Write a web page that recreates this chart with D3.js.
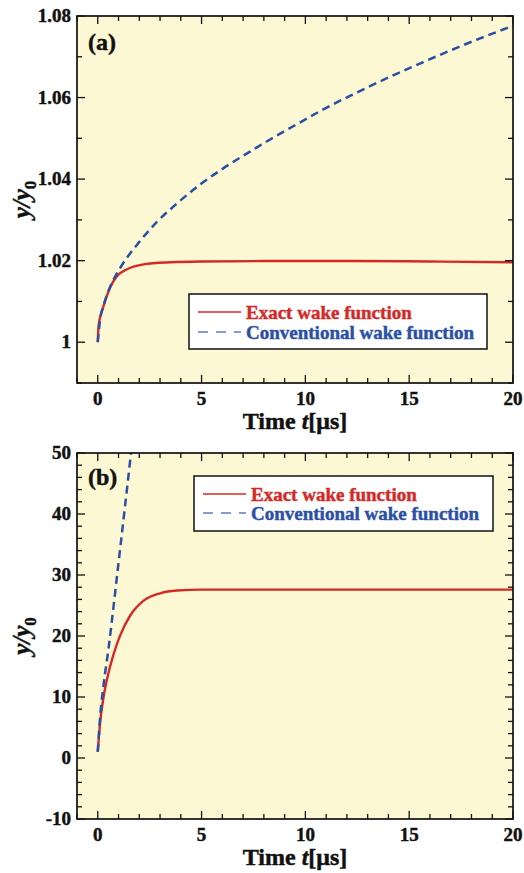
<!DOCTYPE html>
<html>
<head>
<meta charset="utf-8">
<script src="https://cdn.jsdelivr.net/npm/d3@7"></script>
<style>
	body { margin: 0; background: #fff; }
</style>
</head>
<body>
<div id="graphic"></div>
<script>
// values

// panel (a)
var timeExactA = [0, 0.04, 0.28, 0.6, 0.92, 1.41, 2.21, 3.5, 5, 8, 12, 16, 20];
var exactA = [1.0, 1.004, 1.0089, 1.0135, 1.0162, 1.0179, 1.0191, 1.0196, 1.0198, 1.0199, 1.0199, 1.0198, 1.0196];
var timeConvA = [0, 0.1, 0.3, 0.6, 1.08, 1.97, 2.85, 3.81, 4.94, 6.06, 7.35, 8.63, 9.92, 10.86, 12.47, 14.08, 15.68, 17.29, 19.53, 20];
var convA = [1.0, 1.005, 1.0093, 1.0136, 1.0182, 1.0244, 1.0295, 1.034, 1.0387, 1.0427, 1.0468, 1.0507, 1.0544, 1.0571, 1.0612, 1.0651, 1.0687, 1.0722, 1.0767, 1.0776];

// panel (b)
var timeExactB = [0, 0.12, 0.28, 0.52, 0.76, 1.08, 1.57, 2.21, 3.01, 3.81, 5, 10, 15, 20];
var exactB = [1, 6.0, 10.0, 14.0, 17.0, 20.1, 23.4, 25.8, 27.0, 27.45, 27.6, 27.6, 27.6, 27.6];
var timeConvB = [0, 0.12, 0.28, 0.52, 0.68, 0.84, 1.0, 1.17, 1.33, 1.49, 1.6, 1.7];
var convB = [1, 7, 12, 18, 22.5, 27.2, 32, 37, 41.8, 46.6, 50, 53];

// axes
var xTicks = [0, 5, 10, 15, 20];
var yTicksA = [1, 1.02, 1.04, 1.06, 1.08];
var yTicksB = [-10, 0, 10, 20, 30, 40, 50];
var legendLabels = ['Exact wake function', 'Conventional wake function'];

var red = '#d32a27',
	blue = '#2b4fa6',
	ink = '#111',
	paper = '#fbf8d3',
	font = '"Liberation Serif", "DejaVu Serif", "Times New Roman", Times, serif';

var svg = d3.select('#graphic').append('svg')
	.attr('width', 524)
	.attr('height', 873)
	.attr('font-family', font)
	.attr('font-weight', 'bold');

renderPanel({
	top: 16, bottom: 383,
	yDomain: [0.99, 1.08],
	yTicks: yTicksA,
	yMinor: d3.range(0.99, 1.0801, 0.01),
	yFormat: function(d) { return d === 1 ? '1' : d3.format('.2f')(d); },
	exact: d3.zip(timeExactA, exactA),
	conv: d3.zip(timeConvA, convA),
	tag: '(a)', tagY: 50,
	legend: { x: 189, y: 294, w: 298, h: 55, line0: 18, line1: 38, textX: 57 }
});

renderPanel({
	top: 453, bottom: 819,
	yDomain: [-10, 50],
	yTicks: yTicksB,
	yMinor: d3.range(-10, 50.01, 2),
	yFormat: function(d) { return d; },
	exact: d3.zip(timeExactB, exactB),
	conv: d3.zip(timeConvB, convB),
	tag: '(b)', tagY: 485,
	legend: { x: 194, y: 476, w: 299, h: 55, line0: 18, line1: 37, textX: 57 }
});

// slightly heavier text, like the printed figure
function heavy(sel, color) {
	sel.attr('fill', color).attr('stroke', color).attr('stroke-width', 0.45);
}

function renderPanel(config) {

	var left = 77, right = 513;
	var top = config.top, bottom = config.bottom;

	var x = d3.scaleLinear().domain([-1, 20]).range([left, right]);
	var y = d3.scaleLinear().domain(config.yDomain).range([bottom, top]);

	var g = svg.append('g');
	var clipId = 'clip' + top;

	g.append('clipPath').attr('id', clipId)
		.append('rect')
		.attr('x', left).attr('y', top)
		.attr('width', right - left).attr('height', bottom - top);

	g.append('rect')
		.attr('x', left).attr('y', top)
		.attr('width', right - left).attr('height', bottom - top)
		.attr('fill', paper);

	var line = d3.line()
		.x(function(d) { return x(d[0]); })
		.y(function(d) { return y(d[1]); })
		.curve(d3.curveMonotoneX);

	var curves = g.append('g').attr('clip-path', 'url(#' + clipId + ')');

	curves.append('path')
		.attr('d', line(config.exact))
		.attr('fill', 'none')
		.attr('stroke', red)
		.attr('stroke-width', 2.4);

	curves.append('path')
		.attr('d', line(config.conv))
		.attr('fill', 'none')
		.attr('stroke', blue)
		.attr('stroke-width', 2.5)
		.attr('stroke-dasharray', '8,5');

	// ticks, inward on all four sides
	var xMinor = d3.range(-1, 21, 1);
	var ticks = g.append('g').attr('stroke', ink).attr('stroke-width', 1.3);

	xMinor.forEach(function(t) {
		var len = xTicks.indexOf(t) !== -1 ? 8 : 5;
		ticks.append('line').attr('x1', x(t)).attr('x2', x(t)).attr('y1', bottom).attr('y2', bottom - len);
		ticks.append('line').attr('x1', x(t)).attr('x2', x(t)).attr('y1', top).attr('y2', top + len);
	});

	config.yMinor.forEach(function(v) {
		var major = config.yTicks.some(function(m) { return Math.abs(m - v) < 1e-6; });
		var len = major ? 8 : 5;
		ticks.append('line').attr('x1', left).attr('x2', left + len).attr('y1', y(v)).attr('y2', y(v));
		ticks.append('line').attr('x1', right).attr('x2', right - len).attr('y1', y(v)).attr('y2', y(v));
	});

	g.append('rect')
		.attr('x', left).attr('y', top)
		.attr('width', right - left).attr('height', bottom - top)
		.attr('fill', 'none')
		.attr('stroke', ink)
		.attr('stroke-width', 1.7);

	// tick labels
	g.selectAll('text.xt')
		.data(xTicks).enter()
		.append('text')
		.attr('class', 'xt')
		.attr('x', function(d) { return x(d); })
		.attr('y', bottom + 22)
		.attr('text-anchor', 'middle')
		.attr('font-size', 19)
		.text(function(d) { return d; })
		.call(heavy, ink);

	g.selectAll('text.yt')
		.data(config.yTicks).enter()
		.append('text')
		.attr('class', 'yt')
		.attr('x', left - 6)
		.attr('y', function(d) { return y(d) + 6; })
		.attr('text-anchor', 'end')
		.attr('font-size', 19)
		.text(config.yFormat)
		.call(heavy, ink);

	// axis titles
	var xt = g.append('text')
		.attr('x', (left + right) / 2)
		.attr('y', bottom + 46)
		.attr('text-anchor', 'middle')
		.attr('font-size', 24)
		.call(heavy, ink);
	xt.append('tspan').text('Time ');
	xt.append('tspan').attr('font-style', 'italic').text('t');
	xt.append('tspan').text('[\u03bcs]');

	var yt = g.append('text')
		.attr('transform', 'translate(30,' + ((top + bottom) / 2) + ') rotate(-90)')
		.attr('text-anchor', 'middle')
		.attr('font-size', 25)
		.attr('font-style', 'italic')
		.call(heavy, ink);
	yt.append('tspan').text('y/y');
	yt.append('tspan').attr('dy', 6).attr('font-size', 17).attr('font-style', 'normal').text('0');

	g.append('text')
		.attr('x', 88)
		.attr('y', config.tagY)
		.attr('font-size', 24)
		.text(config.tag)
		.call(heavy, ink);

	// legend
	var lg = config.legend;
	var legend = g.append('g').attr('transform', 'translate(' + lg.x + ',' + lg.y + ')');

	legend.append('rect')
		.attr('width', lg.w).attr('height', lg.h)
		.attr('fill', '#fff')
		.attr('stroke', ink)
		.attr('stroke-width', 1.5);

	legend.append('line')
		.attr('x1', 9).attr('x2', 52)
		.attr('y1', lg.line0).attr('y2', lg.line0)
		.attr('stroke', red).attr('stroke-width', 1.3);

	legend.append('line')
		.attr('x1', 9).attr('x2', 52)
		.attr('y1', lg.line1).attr('y2', lg.line1)
		.attr('stroke', '#5d7cc2').attr('stroke-width', 1.6)
		.attr('stroke-dasharray', '10,8');

	legend.append('text')
		.attr('x', lg.textX).attr('y', lg.line0 + 7)
		.attr('font-size', 19)
		.text(legendLabels[0])
		.call(heavy, red);

	legend.append('text')
		.attr('x', lg.textX).attr('y', lg.line1 + 7)
		.attr('font-size', 19)
		.text(legendLabels[1])
		.call(heavy, blue);
}
</script>
</body>
</html>
